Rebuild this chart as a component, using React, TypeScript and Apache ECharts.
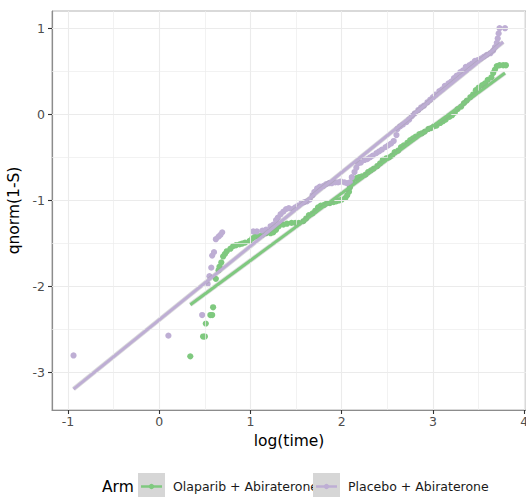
import React, { useEffect, useRef } from "react";
import * as echarts from "echarts";

const armNames = ["Olaparib + Abiraterone", "Placebo + Abiraterone"];
const armColors = ["#7fc97f", "#beaed4"];

const xTicks = [-1, 0, 1, 2, 3, 4];
const yTicks = [-3, -2, -1, 0, 1];
const xMinor = [-0.5, 0.5, 1.5, 2.5, 3.5];
const yMinor = [-2.5, -1.5, -0.5, 0.5];

// [log(time), qnorm(1-S)]
const olaPoints = [
  [0.34, -2.81], [0.48, -2.58], [0.5, -2.58], [0.51, -2.43], [0.56, -2.33], [0.58, -2.33], [0.59, -2.24],
  [0.62, -1.91], [0.65, -1.81], [0.66, -1.77], [0.68, -1.72], [0.7, -1.65], [0.72, -1.62], [0.74, -1.59],
  [0.78, -1.56], [0.81, -1.53], [0.84, -1.52], [0.88, -1.51], [0.91, -1.5], [0.94, -1.49], [0.99, -1.47],
  [1.02, -1.44], [1.05, -1.42], [1.08, -1.41], [1.13, -1.4], [1.17, -1.38], [1.22, -1.38], [1.25, -1.37],
  [1.28, -1.34], [1.31, -1.3], [1.36, -1.28], [1.4, -1.27], [1.45, -1.26], [1.49, -1.26], [1.53, -1.26],
  [1.58, -1.24], [1.61, -1.21], [1.64, -1.17], [1.68, -1.15], [1.71, -1.12], [1.74, -1.08], [1.77, -1.06],
  [1.81, -1.05], [1.84, -1.03], [1.87, -1.03], [1.91, -1.02], [1.94, -1.01], [1.97, -1.0], [2.0, -0.99],
  [2.04, -0.97], [2.06, -0.94], [2.08, -0.9], [2.09, -0.85], [2.11, -0.8], [2.12, -0.77], [2.16, -0.74],
  [2.19, -0.73], [2.22, -0.72], [2.26, -0.7], [2.29, -0.67], [2.32, -0.65], [2.35, -0.63], [2.39, -0.6],
  [2.42, -0.57], [2.45, -0.53], [2.49, -0.51], [2.52, -0.5], [2.55, -0.48], [2.58, -0.44], [2.62, -0.42],
  [2.65, -0.38], [2.68, -0.36], [2.72, -0.33], [2.75, -0.3], [2.78, -0.28], [2.81, -0.26], [2.85, -0.23],
  [2.88, -0.22], [2.91, -0.2], [2.95, -0.17], [2.98, -0.16], [3.01, -0.14], [3.04, -0.13], [3.08, -0.1],
  [3.11, -0.08], [3.14, -0.06], [3.18, -0.03], [3.21, -0.01], [3.24, 0.02], [3.27, 0.06], [3.31, 0.09],
  [3.34, 0.13], [3.37, 0.16], [3.41, 0.2], [3.44, 0.23], [3.47, 0.28], [3.5, 0.31], [3.54, 0.34],
  [3.57, 0.36], [3.6, 0.4], [3.64, 0.43], [3.66, 0.48], [3.68, 0.52], [3.7, 0.56], [3.73, 0.57],
  [3.77, 0.57], [3.8, 0.57],
];

const plaPoints = [
  [-0.94, -2.8], [0.1, -2.57], [0.47, -2.33], [0.53, -1.97], [0.55, -1.88], [0.57, -1.78], [0.58, -1.64],
  [0.6, -1.6], [0.62, -1.45], [0.65, -1.42], [0.67, -1.4], [0.69, -1.37],
  [1.03, -1.36], [1.07, -1.36], [1.13, -1.35], [1.17, -1.34], [1.22, -1.3], [1.25, -1.28], [1.28, -1.23],
  [1.3, -1.2], [1.33, -1.16], [1.36, -1.13], [1.39, -1.1], [1.42, -1.09], [1.46, -1.1], [1.49, -1.08],
  [1.52, -1.06], [1.56, -1.03], [1.59, -1.02], [1.62, -1.01], [1.65, -0.99], [1.68, -0.94], [1.7, -0.9],
  [1.73, -0.86], [1.76, -0.84], [1.8, -0.83], [1.83, -0.81], [1.86, -0.8], [1.89, -0.8], [1.93, -0.79],
  [1.96, -0.79], [1.99, -0.78], [2.03, -0.79], [2.06, -0.8], [2.09, -0.79], [2.11, -0.73], [2.14, -0.67],
  [2.16, -0.62], [2.18, -0.57], [2.21, -0.56], [2.25, -0.53], [2.28, -0.52], [2.31, -0.5], [2.34, -0.48],
  [2.38, -0.45], [2.41, -0.43], [2.44, -0.41], [2.48, -0.38], [2.51, -0.36], [2.54, -0.34], [2.57, -0.31],
  [2.6, -0.24], [2.61, -0.17], [2.64, -0.14], [2.67, -0.12], [2.71, -0.09], [2.74, -0.06], [2.77, -0.02],
  [2.8, 0.01], [2.84, 0.05], [2.87, 0.08], [2.9, 0.1], [2.94, 0.14], [2.97, 0.17], [3.0, 0.2],
  [3.03, 0.23], [3.07, 0.27], [3.1, 0.29], [3.13, 0.33], [3.17, 0.36], [3.2, 0.38], [3.23, 0.42],
  [3.26, 0.45], [3.3, 0.49], [3.33, 0.51], [3.36, 0.55], [3.4, 0.57], [3.43, 0.59], [3.46, 0.62],
  [3.49, 0.63], [3.53, 0.65], [3.56, 0.67], [3.59, 0.69], [3.63, 0.71], [3.66, 0.74], [3.68, 0.78],
  [3.7, 0.83], [3.71, 0.88], [3.72, 0.94], [3.73, 1.0], [3.79, 1.0],
];

// fitted lines (lm) end points
const olaFit = [[0.34, -2.21], [3.79, 0.48]];
const plaFit = [[-0.94, -3.19], [3.77, 0.84]];

const FONT = "DejaVu Sans";

export default function App() {
  const ref = useRef<HTMLDivElement>(null);
  useEffect(() => {
    if (!ref.current) return;
    const chart = echarts.init(ref.current, null, { renderer: "svg" });
    const gridLines = [
      ...xTicks.map((v) => ({ xAxis: v, lineStyle: { color: "#ebebeb", width: 1.1, type: "solid" } })),
      ...yTicks.map((v) => ({ yAxis: v, lineStyle: { color: "#ebebeb", width: 1.1, type: "solid" } })),
      ...xMinor.map((v) => ({ xAxis: v, lineStyle: { color: "#ededed", width: 0.7, type: "solid" } })),
      ...yMinor.map((v) => ({ yAxis: v, lineStyle: { color: "#ededed", width: 0.7, type: "solid" } })),
    ];
    const legendItems: any[] = [];
    const keyX = [138, 313];
    const textX = [173, 348];
    armNames.forEach((name, i) => {
      legendItems.push(
        { type: "rect", shape: { x: keyX[i], y: 473, width: 27, height: 27 }, style: { fill: "#d6d6d6" } },
        { type: "line", shape: { x1: keyX[i] + 3, y1: 486.5, x2: keyX[i] + 24, y2: 486.5 }, style: { stroke: armColors[i], lineWidth: 2.5 } },
        { type: "circle", shape: { cx: keyX[i] + 13.5, cy: 486.5, r: 2.7 }, style: { fill: armColors[i] } },
        { type: "text", x: textX[i], y: 486.5, style: { text: name, fontSize: 12.5, fontFamily: FONT, fill: "#1a1a1a", verticalAlign: "middle", align: "left" } }
      );
    });
    const fitStyle = (color: string) => ({ color, width: 3 });
    chart.setOption({
      animation: false,
      backgroundColor: "#ffffff",
      grid: {
        left: 52, right: 0, top: 11, bottom: 87,
        show: true, borderColor: "#b3b3b3", borderWidth: 1,
        containLabel: false, outerBoundsMode: "none",
      },
      xAxis: {
        type: "value",
        min: -1.176,
        max: 4.02,
        name: "log(time)",
        nameLocation: "middle",
        nameGap: 22,
        nameTextStyle: { fontSize: 15.5, color: "#000", fontFamily: FONT },
        axisLine: { show: true, onZero: false, lineStyle: { color: "#8c8c8c", width: 1.2 } },
        axisTick: { show: true, customValues: xTicks, length: 4, lineStyle: { color: "#333", width: 1.1 } },
        axisLabel: { customValues: xTicks, color: "#4d4d4d", fontSize: 12.5, fontFamily: FONT, margin: 5 },
        splitLine: { show: false },
      },
      yAxis: {
        type: "value",
        min: -3.433,
        max: 1.2,
        name: "qnorm(1-S)",
        nameLocation: "middle",
        nameGap: 23,
        nameTextStyle: { fontSize: 15.5, color: "#000", fontFamily: FONT },
        axisLine: { show: true, onZero: false, lineStyle: { color: "#8c8c8c", width: 1.2 } },
        axisTick: { show: true, customValues: yTicks, length: 4, lineStyle: { color: "#333", width: 1.1 } },
        axisLabel: { customValues: yTicks, color: "#4d4d4d", fontSize: 12.5, fontFamily: FONT, margin: 7 },
        splitLine: { show: false },
      },
      series: [
        {
          type: "line",
          data: [],
          z: 1,
          silent: true,
          markLine: { silent: true, symbol: "none", label: { show: false }, animation: false, data: gridLines },
        },
        {
          name: armNames[0],
          type: "scatter",
          data: olaPoints,
          symbolSize: 6.2,
          itemStyle: { color: armColors[0], opacity: 1 },
          z: 3,
        },
        {
          name: armNames[1],
          type: "scatter",
          data: plaPoints,
          symbolSize: 6.2,
          itemStyle: { color: armColors[1], opacity: 1 },
          z: 3,
        },
        {
          name: armNames[0] + " band",
          type: "line",
          data: olaFit,
          showSymbol: false,
          lineStyle: { color: "rgba(153,153,153,0.35)", width: 4.6 },
          z: 4,
        },
        {
          name: armNames[1] + " band",
          type: "line",
          data: plaFit,
          showSymbol: false,
          lineStyle: { color: "rgba(153,153,153,0.35)", width: 4.6 },
          z: 4,
        },
        {
          name: armNames[0] + " fit",
          type: "line",
          data: olaFit,
          showSymbol: false,
          lineStyle: fitStyle(armColors[0]),
          z: 5,
        },
        {
          name: armNames[1] + " fit",
          type: "line",
          data: plaFit,
          showSymbol: false,
          lineStyle: fitStyle(armColors[1]),
          z: 5,
        },
      ],
      graphic: [
        { type: "text", x: 102, y: 486.5, style: { text: "Arm", fontSize: 15.5, fontFamily: FONT, fill: "#000", verticalAlign: "middle" } },
        ...legendItems,
      ],
    });
    return () => chart.dispose();
  }, []);
  return <div ref={ref} style={{ position: "fixed", left: 0, top: 0, width: 526, height: 497 }} />;
}
